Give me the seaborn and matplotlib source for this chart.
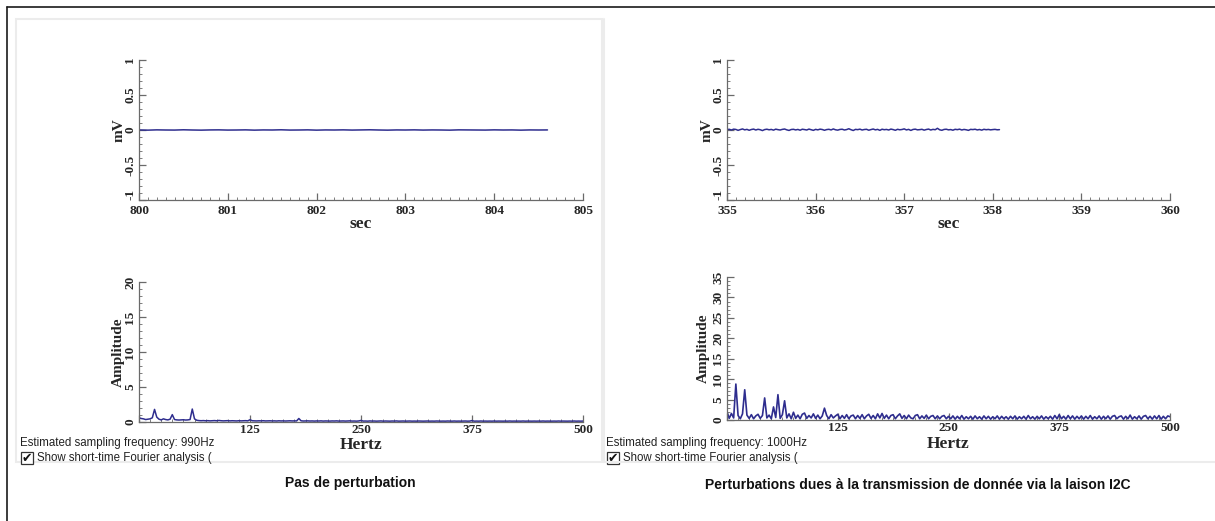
import numpy as np
import pandas as pd
import seaborn as sns
import matplotlib
matplotlib.use("Agg")
import matplotlib.pyplot as plt
from matplotlib.ticker import AutoMinorLocator
from matplotlib.lines import Line2D
from matplotlib.patches import Rectangle

# ---------------------------------------------------------------- data
# time-domain traces (mV)
t0_left, dt_left = 800.0, 0.1
mv_left = [
    0.001, -0.002, 0.002, 0.000, -0.001, 0.003, 0.000, -0.002, 0.001, 0.002,
    -0.001, 0.000, 0.002, -0.002, 0.001, 0.000, 0.003, -0.001, 0.000, 0.002,
    -0.002, 0.001, 0.000, 0.002, -0.001, 0.001, 0.003, 0.000, -0.002, 0.001,
    0.000, 0.002, -0.001, 0.001, 0.000, -0.002, 0.002, 0.001, 0.000, -0.001,
    0.002, 0.000, 0.001, -0.002, 0.001, 0.000, 0.001,
]
t0_right, dt_right = 355.0, 0.025
mv_right = [
    0.005, 0.010, 0.000, 0.012, 0.008, -0.005, 0.006, 0.015, 0.002, 0.009,
    -0.004, 0.007, 0.013, 0.000, 0.010, 0.004, -0.008, 0.006, 0.011, 0.003,
    0.008, -0.002, 0.012, 0.005, 0.000, 0.009, 0.014, 0.002, -0.006, 0.007,
    0.010, 0.001, 0.008, -0.003, 0.011, 0.006, 0.000, 0.013, 0.004, -0.005,
    0.009, 0.002, 0.012, 0.007, -0.004, 0.006, 0.010, 0.001, 0.015, 0.003,
    -0.002, 0.008, 0.011, 0.000, 0.006, 0.018, 0.004, -0.007, 0.009, 0.005,
    0.012, 0.000, 0.007, 0.010, -0.003, 0.006, 0.014, 0.002, 0.009, -0.005,
    0.011, 0.004, 0.008, 0.000, 0.013, 0.006, -0.004, 0.010, 0.003, 0.007,
    0.016, 0.001, 0.009, -0.006, 0.008, 0.012, 0.002, 0.005, 0.010, -0.002,
    0.007, 0.013, 0.000, 0.009, 0.004, 0.024, 0.003, -0.004, 0.008, 0.011,
    0.002, 0.006, -0.003, 0.010, 0.005, 0.012, 0.000, 0.008, 0.003, -0.005,
    0.009, 0.006, 0.011, 0.001, 0.007, -0.002, 0.010, 0.004, 0.008, 0.002,
    0.006, 0.009, 0.003, 0.005,
]

# spectra, one bin every 2.5 Hz from 0 to 500 Hz
df_hz = 2.5
amp_left = [
    0.60, 0.50, 0.45, 0.35, 0.40, 0.45, 0.60, 1.80, 0.70, 0.40,
    0.30, 0.45, 0.35, 0.30, 0.40, 1.05, 0.35, 0.30, 0.28, 0.30,
    0.32, 0.28, 0.30, 0.35, 1.85, 0.45, 0.25, 0.20, 0.18, 0.20,
    0.17, 0.19, 0.16, 0.18, 0.20, 0.17, 0.22, 0.18, 0.16, 0.17,
    0.19, 0.16, 0.18, 0.17, 0.15, 0.18, 0.16, 0.17, 0.19, 0.16,
    0.32, 0.18, 0.16, 0.15, 0.17, 0.16, 0.18, 0.15, 0.16, 0.17,
    0.15, 0.16, 0.14, 0.17, 0.15, 0.16, 0.14, 0.15, 0.17, 0.15,
    0.16, 0.15, 0.50, 0.17, 0.14, 0.15, 0.16, 0.14, 0.15, 0.13,
    0.15, 0.14, 0.16, 0.13, 0.15, 0.14, 0.13, 0.15, 0.14, 0.16,
    0.13, 0.14, 0.15, 0.13, 0.14, 0.16, 0.13, 0.14, 0.12, 0.15,
    0.22, 0.13, 0.14, 0.12, 0.15, 0.13, 0.14, 0.12, 0.13, 0.15,
    0.12, 0.14, 0.13, 0.12, 0.14, 0.13, 0.15, 0.12, 0.13, 0.14,
    0.12, 0.13, 0.14, 0.12, 0.13, 0.12, 0.14, 0.13, 0.12, 0.13,
    0.14, 0.12, 0.13, 0.12, 0.14, 0.13, 0.12, 0.13, 0.12, 0.14,
    0.13, 0.12, 0.14, 0.12, 0.13, 0.12, 0.13, 0.14, 0.12, 0.13,
    0.20, 0.12, 0.13, 0.12, 0.14, 0.12, 0.13, 0.12, 0.13, 0.12,
    0.14, 0.12, 0.13, 0.12, 0.12, 0.13, 0.12, 0.14, 0.12, 0.13,
    0.12, 0.13, 0.12, 0.14, 0.12, 0.13, 0.12, 0.12, 0.13, 0.12,
    0.13, 0.12, 0.14, 0.12, 0.13, 0.12, 0.12, 0.13, 0.12, 0.14,
    0.12, 0.13, 0.12, 0.12, 0.13, 0.12, 0.14, 0.12, 0.13, 0.12,
    0.13,
]
amp_right = [
    2.0, 0.4, 1.6, 0.5, 8.8, 1.1, 0.3, 1.5, 7.4, 1.2,
    0.4, 1.3, 0.3, 1.0, 1.4, 0.4, 1.1, 5.4, 0.5, 1.2,
    0.3, 3.2, 0.6, 6.2, 0.4, 1.3, 4.7, 0.5, 1.5, 0.3,
    1.9, 0.4, 1.2, 0.3, 1.4, 1.7, 0.4, 1.1, 0.5, 1.5,
    0.4, 1.2, 0.3, 1.0, 2.9, 1.1, 0.3, 1.3, 0.5, 1.0,
    1.4, 0.3, 1.1, 0.4, 1.3, 0.3, 1.0, 1.2, 0.3, 1.1,
    0.4, 1.3, 0.3, 1.0, 1.4, 0.4, 1.1, 0.3, 1.5, 0.5,
    1.6, 0.4, 1.2, 0.3, 1.1, 1.3, 0.3, 1.0, 1.5, 0.4,
    1.1, 0.3, 1.2, 0.5, 0.3, 1.1, 1.3, 0.3, 1.0, 0.4,
    1.2, 0.3, 0.9, 1.1, 0.3, 1.0, 0.3, 0.9, 1.1, 0.3,
    0.9, 0.3, 1.0, 0.2, 0.9, 0.3, 1.1, 0.2, 0.8, 0.3,
    0.9, 0.2, 1.0, 0.3, 0.8, 0.2, 1.0, 0.3, 0.9, 0.2,
    0.8, 0.3, 1.0, 0.2, 0.9, 0.3, 0.8, 0.2, 0.9, 0.3,
    1.0, 0.2, 0.8, 0.3, 0.9, 0.2, 1.1, 0.3, 0.8, 0.2,
    0.9, 0.3, 1.0, 0.2, 0.8, 0.3, 0.9, 0.2, 1.1, 0.3,
    1.3, 0.3, 0.9, 0.2, 1.1, 0.3, 1.0, 0.2, 0.9, 0.3,
    1.0, 0.2, 0.9, 0.3, 1.1, 0.2, 0.8, 0.3, 1.0, 0.2,
    0.9, 0.3, 1.0, 0.2, 0.9, 1.1, 0.3, 0.8, 1.0, 0.2,
    0.9, 0.3, 1.2, 0.2, 0.8, 0.3, 1.0, 0.2, 0.9, 1.1,
    0.3, 0.9, 0.2, 1.0, 0.3, 1.1, 0.2, 0.9, 0.3, 1.0,
    0.8,
]

time_ticks_left = [800, 801, 802, 803, 804, 805]
time_ticks_right = [355, 356, 357, 358, 359, 360]
mv_ticks = [-1, -0.5, 0, 0.5, 1]
mv_labels = ["-1", "-0.5", "0", "0.5", "1"]
hz_ticks = [0, 125, 250, 375, 500]
hz_labels = ["", "125", "250", "375", "500"]
amp_ticks_left = [0, 5, 10, 15, 20]
amp_ticks_right = [0, 5, 10, 15, 20, 25, 30, 35]

captions = ["Pas de perturbation",
            "Perturbations dues à la transmission de donnée via la laison I2C"]
rates = ["Estimated sampling frequency: 990Hz",
         "Estimated sampling frequency: 1000Hz"]
stft_text = "Show short-time Fourier analysis ("

# ---------------------------------------------------------------- style
sns.set_style("white")
plt.rcParams["font.family"] = ["Liberation Serif", "DejaVu Serif"]

W, H = 1215, 521
LINE = "#2e2d8e"
AXC = "#6a6a6a"
SERIF = "Liberation Serif"
SANS = "Liberation Sans"

fig = plt.figure(figsize=(W / 100, H / 100), dpi=100)
fig.patch.set_facecolor("white")


def fx(x):
    return x / W


def fy(y):
    return 1 - y / H


def axes_px(left, top, right, bottom):
    return fig.add_axes([fx(left), fy(bottom), (right - left) / W, (bottom - top) / H])


def style(ax, xlim, ylim, xt, xl, yt, yl, xminor, yminor, xlabel, ylabel, xlab_y, ylab_x,
          xpad=2.0, lift_lowest=False):
    ax.set_xlim(*xlim)
    ax.set_ylim(*ylim)
    ax.set_xticks(xt, xl)
    ax.set_yticks(yt, yl)
    ax.xaxis.set_minor_locator(AutoMinorLocator(xminor))
    ax.yaxis.set_minor_locator(AutoMinorLocator(yminor))
    for s in ("top", "right"):
        ax.spines[s].set_visible(False)
    for s in ("left", "bottom"):
        ax.spines[s].set_color(AXC)
        ax.spines[s].set_linewidth(0.9)
    ax.tick_params(which="both", direction="in", color=AXC, bottom=True, left=True,
                   top=False, right=False)
    ax.tick_params(which="major", length=5, width=0.9, labelsize=9.5, pad=2)
    ax.tick_params(axis="x", which="major", pad=xpad)
    ax.tick_params(which="minor", length=2.5, width=0.6)
    ax.tick_params(axis="y", labelrotation=90)
    for lab in ax.get_xticklabels() + ax.get_yticklabels():
        lab.set_fontfamily(SERIF)
        lab.set_fontweight("bold")
    ylabs = ax.get_yticklabels()
    for lab in ylabs:
        lab.set_va("center")
    if lift_lowest:
        # the lowest value label sits just above the corner, clear of the x labels
        ylabs[0].set_va("bottom")
    ax.set_xlabel(xlabel, fontsize=12.5, fontweight="bold", fontfamily=SERIF)
    ax.set_ylabel(ylabel, fontsize=11, fontweight="bold", fontfamily=SERIF)
    ax.xaxis.label.set_va("center")
    ax.yaxis.label.set_va("center")
    ax.xaxis.set_label_coords(0.5, xlab_y)
    ax.yaxis.set_label_coords(ylab_x, 0.5)
    ax.set_facecolor("white")


# ---------------------------------------------------------------- panels
t_left = t0_left + dt_left * np.arange(len(mv_left))
t_right = t0_right + dt_right * np.arange(len(mv_right))
f_left = df_hz * np.arange(len(amp_left))
f_right = df_hz * np.arange(len(amp_right))

ax_tl = axes_px(139, 60, 583, 200)
sns.lineplot(x=t_left, y=mv_left, ax=ax_tl, color=LINE, linewidth=1.1, estimator=None)
style(ax_tl, (800, 805), (-1, 1), time_ticks_left, [str(v) for v in time_ticks_left],
      mv_ticks, mv_labels, 10, 5, "sec", "mV", -0.175, -0.045, xpad=3.5, lift_lowest=True)

ax_tr = axes_px(727, 60, 1170, 200)
sns.lineplot(x=t_right, y=mv_right, ax=ax_tr, color=LINE, linewidth=1.1, estimator=None)
style(ax_tr, (355, 360), (-1, 1), time_ticks_right, [str(v) for v in time_ticks_right],
      mv_ticks, mv_labels, 10, 5, "sec", "mV", -0.175, -0.045, xpad=3.5, lift_lowest=True)

ax_bl = axes_px(139, 282, 583, 422)
sns.lineplot(x=f_left, y=amp_left, ax=ax_bl, color=LINE, linewidth=1.1, estimator=None)
style(ax_bl, (0, 500), (0, 20), hz_ticks, hz_labels,
      amp_ticks_left, [str(v) for v in amp_ticks_left], 10, 5, "Hertz", "Amplitude",
      -0.165, -0.047, xpad=1.5)

ax_br = axes_px(727, 277, 1170, 420)
sns.lineplot(x=f_right, y=amp_right, ax=ax_br, color=LINE, linewidth=1.2, estimator=None)
style(ax_br, (0, 500), (0, 35), hz_ticks, hz_labels,
      amp_ticks_right, [str(v) for v in amp_ticks_right], 10, 5, "Hertz", "Amplitude",
      -0.17, -0.054, xpad=1.5)

# ---------------------------------------------------------------- frames
# outer black frame (left and top edges)
fig.add_artist(Line2D([fx(6.5), fx(6.5)], [fy(6.5), 0], color="#1a1a1a", lw=1.2))
fig.add_artist(Line2D([fx(6.5), 1], [fy(6.5), fy(6.5)], color="#1a1a1a", lw=1.2))
# light panel borders
fig.add_artist(Rectangle((fx(15.5), fy(462)), (602 - 15.5) / W, (462 - 19) / H,
                         transform=fig.transFigure, fill=False, ec="#ececec", lw=1.5))
fig.add_artist(Line2D([fx(604), fx(604)], [fy(19), fy(462)], color="#ececec", lw=1.5))
fig.add_artist(Line2D([fx(604), 1], [fy(462), fy(462)], color="#ececec", lw=1.5))

# ---------------------------------------------------------------- widget texts
for x0, rate in ((20, rates[0]), (606, rates[1])):
    fig.text(fx(x0), fy(443), rate, ha="left", va="center", fontsize=8.3,
             fontfamily=SANS, color="#222222")
    fig.add_artist(Rectangle((fx(x0 + 1), fy(464)), 12 / W, 12 / H,
                             transform=fig.transFigure, fill=True, fc="white",
                             ec="#333333", lw=0.9))
    fig.text(fx(x0 + 7), fy(458.5), "\u2714", ha="center", va="center",
             fontsize=9, fontfamily="DejaVu Sans", color="#111111")
    fig.text(fx(x0 + 17), fy(458), stft_text, ha="left", va="center", fontsize=8.3,
             fontfamily=SANS, color="#222222")

# ---------------------------------------------------------------- captions
fig.text(fx(350), fy(483), captions[0], ha="center", va="center", fontsize=10,
         fontweight="bold", fontfamily=SANS, color="#111111")
fig.text(fx(918), fy(485), captions[1], ha="center", va="center", fontsize=10,
         fontweight="bold", fontfamily=SANS, color="#111111")

fig.savefig("out.png", dpi=100, facecolor="white")
